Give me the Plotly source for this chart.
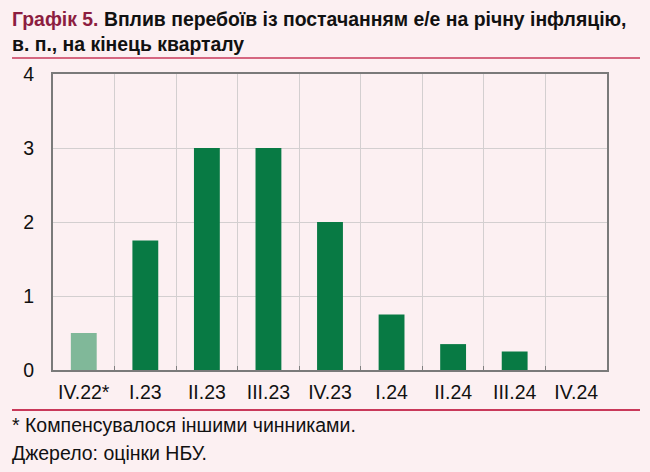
import plotly.graph_objects as go

categories = ["IV.22*", "I.23", "II.23", "III.23", "IV.23", "I.24", "II.24", "III.24", "IV.24"]
values = [0.5, 1.75, 3.0, 3.0, 2.0, 0.75, 0.35, 0.25, 0.0]
bar_colors = ["#80B899", "#087A44", "#087A44", "#087A44", "#087A44", "#087A44", "#087A44", "#087A44", "#087A44"]
y_ticks = [0, 1, 2, 3, 4]

BG = "#FCF0F2"
FONT = "Liberation Sans"

fig = go.Figure(go.Bar(x=categories, y=values, marker=dict(color=bar_colors, line=dict(width=0)), width=0.42))

W, H = 650, 472
L, R, T, B = 53, 607, 74, 370
pw, ph = R - L, B - T

def px(x):
    return (x - L) / pw

def py(y):
    return (B - y) / ph

fig.update_layout(
    width=W, height=H,
    margin=dict(l=L, r=W - R, t=T, b=H - B),
    paper_bgcolor=BG, plot_bgcolor=BG,
    showlegend=False,
    font=dict(family=FONT, color="#000000"),
    xaxis=dict(
        type="category", tickson="boundaries", showgrid=True, gridcolor="#D3CFD0", gridwidth=1,
        ticks="inside", ticklen=4, tickcolor="#808080",
        showline=True, linecolor="#7A7A7A", linewidth=2, mirror=True,
        tickfont=dict(size=19.5, family=FONT, color="#111111"), ticklabelstandoff=4,
        range=[-0.5, 8.5], fixedrange=True,
    ),
    yaxis=dict(
        range=[0, 4], tickvals=y_ticks, showgrid=True, gridcolor="#D3CFD0", gridwidth=1,
        showline=True, linecolor="#7A7A7A", linewidth=2, mirror=True,
        tickfont=dict(size=19.5, family=FONT, color="#111111"), ticks="", ticklabelstandoff=13,
        zeroline=False, fixedrange=True,
    ),
    bargap=0.58,
)

fig.add_annotation(
    xref="paper", yref="paper", x=px(10), y=py(6), xanchor="left", yanchor="top",
    align="left", showarrow=False,
    text="<b><span style='color:#8C1D40'>Графік 5.</span> Вплив перебоїв із постачанням е/е на річну інфляцію,<br>в. п., на кінець кварталу</b>",
    font=dict(size=19.4, family=FONT, color="#111111"),
)

fig.add_shape(type="line", xref="paper", yref="paper", x0=px(12), x1=px(640), y0=py(58), y1=py(58),
              line=dict(color="#C9395A", width=1.5))
fig.add_shape(type="line", xref="paper", yref="paper", x0=px(12), x1=px(640), y0=py(410), y1=py(410),
              line=dict(color="#C9395A", width=2))

fig.add_annotation(
    xref="paper", yref="paper", x=px(10), y=py(425), xanchor="left", yanchor="middle",
    showarrow=False, text="* Компенсувалося іншими чинниками.",
    font=dict(size=19.5, family=FONT, color="#111111"),
)
fig.add_annotation(
    xref="paper", yref="paper", x=px(10), y=py(453), xanchor="left", yanchor="middle",
    showarrow=False, text="Джерело: оцінки НБУ.",
    font=dict(size=19.5, family=FONT, color="#111111"),
)

fig.write_html("out.html", config={"displayModeBar": False},
               post_script="document.body.style.margin='0';document.body.style.padding='0';")
